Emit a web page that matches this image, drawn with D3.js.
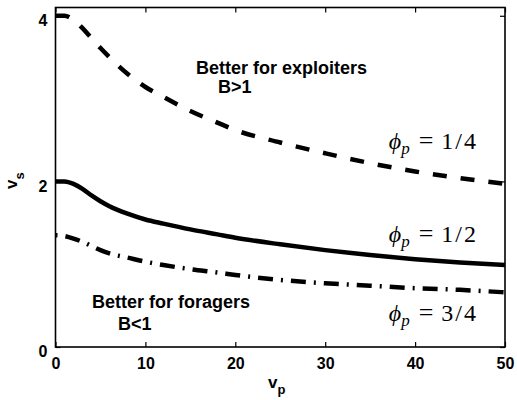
<!DOCTYPE html>
<html>
<head>
<meta charset="utf-8">
<script src="https://d3js.org/d3.v7.min.js"></script>
<style>
  body { margin: 0; background: #fff; }
  svg { display: block; }
  .tick text { font-family: "Liberation Sans", Arial, sans-serif; font-weight: bold; font-size: 16px; fill: #000; }
  .lbl { font-family: "Liberation Sans", Arial, sans-serif; font-weight: bold; fill: #000; }
  .math { font-family: "Liberation Serif", "DejaVu Serif", serif; fill: #000; }
</style>
</head>
<body>
<svg id="chart"></svg>
<script>
// values
const vp = [0, 1, 2, 3, 4, 5, 6, 8, 10, 12, 15, 18, 20, 25, 30, 35, 40, 45, 50];
const vsQuarter = [4.00, 4.00, 3.95, 3.85, 3.73, 3.61, 3.50, 3.30, 3.14, 3.02, 2.85, 2.71, 2.62, 2.47, 2.34, 2.22, 2.12, 2.04, 1.97];
const vsHalf = [2.00, 2.00, 1.97, 1.91, 1.83, 1.76, 1.70, 1.61, 1.54, 1.49, 1.42, 1.36, 1.32, 1.24, 1.17, 1.11, 1.06, 1.02, 0.99];
const vsThreeQuarter = [1.35, 1.34, 1.31, 1.27, 1.22, 1.17, 1.13, 1.08, 1.03, 0.99, 0.94, 0.90, 0.87, 0.81, 0.77, 0.74, 0.71, 0.69, 0.66];
const xTicks = [0, 10, 20, 30, 40, 50];
const yTicks = [0, 2, 4];

const width = 517, height = 400;
const margin = {top: 7.5, right: 12, bottom: 53, left: 55.5};

const svg = d3.select("#chart").attr("width", width).attr("height", height);

const x = d3.scaleLinear().domain([0, 50]).range([margin.left, width - margin.right]);
const y = d3.scaleLinear().domain([0, 4.1]).range([height - margin.bottom, margin.top]);

// axes, ticks pointing inward like matlab
svg.append("g")
    .attr("transform", `translate(0,${y(0)})`)
    .call(d3.axisBottom(x).tickValues(xTicks).tickSizeInner(-5).tickSizeOuter(0).tickPadding(11))
    .call(g => g.select(".domain").remove());
svg.append("g")
    .attr("transform", `translate(0,${margin.top})`)
    .call(d3.axisTop(x).tickValues(xTicks).tickSizeInner(-5).tickSizeOuter(0).tickFormat(""))
    .call(g => g.select(".domain").remove());
svg.append("g")
    .attr("transform", `translate(${margin.left},0)`)
    .call(d3.axisLeft(y).tickValues(yTicks).tickFormat(d3.format("d")).tickSizeInner(-5).tickSizeOuter(0).tickPadding(8))
    .call(g => g.select(".domain").remove())
    .call(g => g.selectAll(".tick text").attr("dy", "0.62em"));
svg.append("g")
    .attr("transform", `translate(${width - margin.right},0)`)
    .call(d3.axisRight(y).tickValues(yTicks).tickSizeInner(-5).tickSizeOuter(0).tickFormat(""))
    .call(g => g.select(".domain").remove());

svg.selectAll(".tick line").attr("stroke", "#000").attr("stroke-width", 1.2);

svg.append("rect")
    .attr("x", margin.left).attr("y", margin.top)
    .attr("width", width - margin.right - margin.left)
    .attr("height", y(0) - margin.top)
    .attr("fill", "none").attr("stroke", "#000").attr("stroke-width", 1.6);

const line = d3.line().x(d => x(d[0])).y(d => y(d[1])).curve(d3.curveMonotoneX);

const series = [
    {vals: vsQuarter, dash: "14,14"},
    {vals: vsHalf, dash: null},
    {vals: vsThreeQuarter, dash: "2,8,15,8"}
];

svg.append("g").selectAll("path")
    .data(series)
    .enter().append("path")
    .attr("d", s => line(vp.map((v, i) => [v, s.vals[i]])))
    .attr("fill", "none")
    .attr("stroke", "#000")
    .attr("stroke-width", 4.5)
    .attr("stroke-dasharray", s => s.dash);

// region notes
const notes = [
    {t: "Better for exploiters", x: 196, y: 74},
    {t: "B>1", x: 218, y: 93},
    {t: "Better for foragers", x: 92, y: 308},
    {t: "B<1", x: 118, y: 330}
];
svg.append("g").selectAll("text")
    .data(notes)
    .enter().append("text")
    .attr("class", "lbl")
    .attr("x", d => d.x).attr("y", d => d.y)
    .attr("font-size", 18)
    .text(d => d.t);

// phi labels
const phiLabels = [
    {frac: "1/4", y: 149},
    {frac: "1/2", y: 242},
    {frac: "3/4", y: 321}
];
phiLabels.forEach(p => {
    const t = svg.append("text").attr("class", "math")
        .attr("x", 478).attr("y", p.y)
        .attr("text-anchor", "end").attr("font-size", 24);
    t.append("tspan").attr("font-style", "italic").text("\u03D5");
    t.append("tspan").attr("font-style", "italic").attr("font-size", 17).attr("dy", 5).text("p");
    t.append("tspan").attr("dy", -5).attr("dx", 9).attr("font-size", 26).text("=");
    t.append("tspan").attr("dx", 8).attr("letter-spacing", 2).text(p.frac);
});

// axis titles
const xt = svg.append("text").attr("class", "lbl").attr("x", 268).attr("y", 388).attr("font-size", 17);
xt.append("tspan").text("v");
xt.append("tspan").attr("font-size", 13).attr("dy", 6).text("p");

const yt = svg.append("text").attr("class", "lbl")
    .attr("transform", "translate(17,189) rotate(-90)").attr("font-size", 17);
yt.append("tspan").text("v");
yt.append("tspan").attr("font-size", 13).attr("dy", 7).text("s");
</script>
</body>
</html>
